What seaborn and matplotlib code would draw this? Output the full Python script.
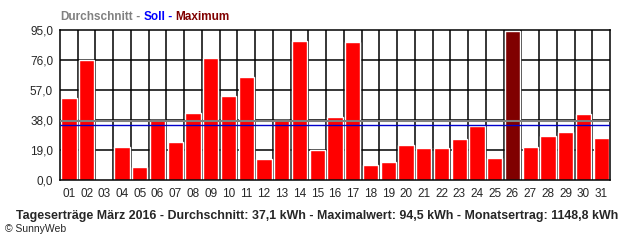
import matplotlib
matplotlib.use("Agg")
import matplotlib.pyplot as plt
import seaborn as sns
import pandas as pd
import numpy as np
from matplotlib.ticker import FixedLocator

days = [f"{d:02d}" for d in range(1, 32)]
values = [52.2, 75.8, 0.0, 21.2, 8.0, 37.8, 23.8, 42.7, 77.5, 53.5, 65.5, 13.0,
          37.9, 88.2, 19.3, 39.6, 87.6, 9.2, 11.1, 21.9, 20.0, 20.0, 25.7, 33.9,
          13.7, 94.5, 20.6, 27.6, 30.7, 42.1, 26.3]
average = 37.1
target = 34.6
y_ticks = [0, 19, 38, 57, 76, 95]
y_labels = ["0,0", "19,0", "38,0", "57,0", "76,0", "95,0"]
caption = "Tageserträge März 2016 - Durchschnitt: 37,1 kWh - Maximalwert: 94,5 kWh - Monatsertrag: 1148,8 kWh"

sns.set_style("white")
plt.rcParams['font.family'] = ['Liberation Sans Narrow', 'Liberation Sans', 'DejaVu Sans']

maxv = max(values)
df = pd.DataFrame({"day": days, "value": values,
                   "kind": ["max" if v == maxv else "normal" for v in values]})

fig = plt.figure(figsize=(6.4, 2.4), dpi=100)
ax = fig.add_axes([60/640, 1-180/240, 550/640, 150/240])

sns.barplot(data=df, x="day", y="value", hue="kind",
            palette={"normal": "#ff0000", "max": "#800000"},
            dodge=False, width=0.86, saturation=1, legend=False, ax=ax, zorder=2)

ax.set_xlim(-0.5, len(days) - 0.5)
ax.set_ylim(0, 95)
ax.set_yticks(y_ticks)
ax.set_yticklabels(y_labels, fontsize=8.5)
ax.set_xlabel("")
ax.set_ylabel("")

# grid
for y in y_ticks[1:-1]:
    ax.axhline(y, color="black", lw=1.1, zorder=1)
bounds = np.arange(-0.5, len(days), 1.0)
ax.xaxis.set_minor_locator(FixedLocator(bounds))
for b in bounds[1:-1]:
    ax.axvline(b, color="black", lw=1.1, zorder=1)
ax.tick_params(axis="x", which="major", length=0, labelsize=8.5, pad=6)
ax.tick_params(axis="x", which="minor", length=5, width=1.1, color="black", direction="out")
ax.tick_params(axis="y", which="major", length=4, width=1.1, color="black", direction="out",
               labelsize=8.5, pad=1)
for s in ax.spines.values():
    s.set_color("black")
    s.set_linewidth(1.1)

ax.axhline(average, color="#808080", lw=1.5, zorder=3)
ax.axhline(target, color="#0000cc", lw=1.0, zorder=3)

# top legend title
x0 = 60/640
y0 = 1 - 17/240
t1 = fig.text(x0, y0, "Durchschnitt", color="#808080", fontsize=8.5, fontweight="bold", va="center")
fig.canvas.draw()
r = fig.canvas.get_renderer()
parts = [(" - ", "#808080"), ("Soll", "#0000ff"), (" - ", "#0000ff"), ("Maximum", "#800000")]
prev = t1
for s, c in parts:
    bb = prev.get_window_extent(r)
    prev = fig.text(bb.x1 / fig.bbox.width, y0, s, color=c, fontsize=8.5,
                    fontweight="bold", va="center")
    fig.canvas.draw()

fig.text(0.5 * (20 + 615) / 640, 1 - 216/240, caption, fontsize=8.9, fontweight="bold",
         ha="center", va="center")
fig.text(5/640, 1 - 229/240, "© SunnyWeb", fontsize=7.5, ha="left", va="center")

fig.savefig("out.png", dpi=100, facecolor="white")
